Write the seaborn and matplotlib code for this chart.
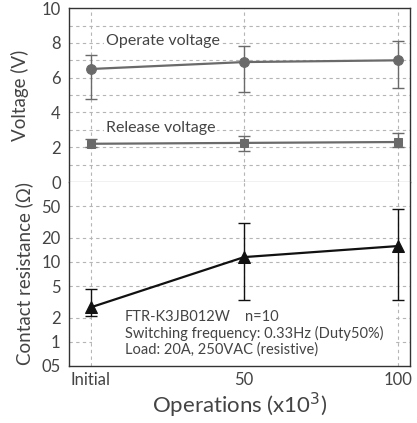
import numpy as np
import matplotlib.pyplot as plt
import seaborn as sns
import pandas as pd
from matplotlib.patches import Rectangle

# --- data ---
stages = ["Initial", "50", "100"]

operate_mean = [6.5, 6.9, 7.0]
operate_min = [4.8, 5.2, 5.4]
operate_max = [7.3, 7.85, 8.1]

release_mean = [2.2, 2.25, 2.3]
release_min = [2.0, 1.8, 2.0]
release_max = [2.5, 2.65, 2.8]

res_mean = [2.7, 11.5, 15.8]
res_min = [2.1, 3.3, 3.3]
res_max = [4.6, 30.8, 46.0]

volt_ticks = [0, 2, 4, 6, 8, 10]
res_ticks = [0.5, 1, 2, 5, 10, 20, 50]
res_ticklabels = ["05", "1", "2", "5", "10", "20", "50"]

sns.set_theme(style="white")
plt.rcParams['font.family'] = ['Lato', 'DejaVu Sans']

x = np.arange(len(stages))
df = pd.DataFrame({"x": x, "operate": operate_mean, "release": release_mean,
                   "res": res_mean})

fig = plt.figure(figsize=(4.17, 4.23), dpi=100)
ax_v = fig.add_axes([0.1655, 0.5697, 0.818, 0.411])
ax_r = fig.add_axes([0.1655, 0.1348, 0.818, 0.435])

grid_kw = dict(color="#b5b5b5", linestyle=(0, (3, 3)), linewidth=0.8)
text_col = "#444444"
vcol = "#6a6a6a"

# --- voltage panel ---
for mean, lo, hi in [(operate_mean, operate_min, operate_max),
                     (release_mean, release_min, release_max)]:
    m = np.array(mean)
    ax_v.errorbar(x, m, yerr=[m - np.array(lo), np.array(hi) - m], fmt="none",
                  ecolor=vcol, elinewidth=1.0, capsize=4, capthick=1.0, zorder=3)
sns.lineplot(data=df, x="x", y="operate", ax=ax_v, color=vcol, marker="o",
             markersize=7, markeredgecolor=vcol, linewidth=1.6, zorder=4)
sns.lineplot(data=df, x="x", y="release", ax=ax_v, color=vcol, marker="s",
             markersize=6, markeredgecolor=vcol, linewidth=1.6, zorder=4)

ax_v.set_ylim(0, 10)
ax_v.set_xlim(-0.14, 2.08)
ax_v.set_yticks(volt_ticks)
ax_v.set_xticks(x)
ax_v.tick_params(axis="x", labelbottom=False, length=0)
ax_v.tick_params(axis="y", length=0, labelsize=12, labelcolor=text_col, pad=6)
for yv in np.arange(1, 10):
    ax_v.axhline(yv, zorder=1, **grid_kw)
for xv in x:
    ax_v.axvline(xv, zorder=1, **grid_kw)
ax_v.set_xlabel("")
ax_v.set_ylabel("Voltage (V)", fontsize=13.5, color=text_col)
ax_v.yaxis.set_label_coords(-0.118, 0.5)
ax_v.text(0.1, 8.1, "Operate voltage", fontsize=11.5, color=text_col,
          va="center", bbox=dict(facecolor="white", edgecolor="none", pad=1), zorder=2)
ax_v.text(0.1, 3.1, "Release voltage", fontsize=11.5, color=text_col,
          va="center", bbox=dict(facecolor="white", edgecolor="none", pad=1), zorder=2)
for s in ["top", "left", "right"]:
    ax_v.spines[s].set_color("#333333")
    ax_v.spines[s].set_linewidth(1.0)
ax_v.spines["bottom"].set_color("#bbbbbb")
ax_v.spines["bottom"].set_linewidth(1.0)

# --- resistance panel ---
m = np.array(res_mean)
ax_r.errorbar(x, m, yerr=[m - np.array(res_min), np.array(res_max) - m], fmt="none",
              ecolor="#111111", elinewidth=1.0, capsize=4, capthick=1.0, zorder=3)
sns.lineplot(data=df, x="x", y="res", ax=ax_r, color="#111111", marker="^",
             markersize=8, markeredgecolor="#111111", linewidth=1.6, zorder=4)
ax_r.set_yscale("log")
ax_r.set_ylim(0.5, 100)
ax_r.set_xlim(-0.14, 2.08)
ax_r.set_yticks(res_ticks)
ax_r.set_yticklabels(res_ticklabels)
ax_r.minorticks_off()
ax_r.set_xticks(x)
ax_r.set_xticklabels(stages)
ax_r.tick_params(axis="both", length=0, labelsize=12, labelcolor=text_col)
ax_r.tick_params(axis="y", pad=6)
ax_r.tick_params(axis="x", pad=4.5)
for yv in res_ticks[1:]:
    ax_r.axhline(yv, zorder=1, **grid_kw)
for xv in x:
    ax_r.axvline(xv, zorder=1, **grid_kw)

# white note box that hides the grid behind the text
ax_r.add_patch(Rectangle((0.067, 0.0), 0.892, 0.345, transform=ax_r.transAxes,
                         facecolor="white", edgecolor="none", zorder=2))
note_kw = dict(transform=ax_r.transAxes, fontsize=10.5, color=text_col, zorder=5, va="center")
ax_r.text(0.164, 0.265, "FTR-K3JB012W", **note_kw)
ax_r.text(0.515, 0.265, "n=10", **note_kw)
ax_r.text(0.164, 0.178, "Switching frequency: 0.33Hz (Duty50%)", **note_kw)
ax_r.text(0.164, 0.091, "Load: 20A, 250VAC (resistive)", **note_kw)

ax_r.set_xlabel("Operations (x10$^3$)", fontsize=16, color=text_col, labelpad=2)
ax_r.set_ylabel("Contact resistance (\u03a9)", fontsize=13.5, color=text_col)
ax_r.yaxis.set_label_coords(-0.106, 0.5)
ax_r.spines["top"].set_visible(False)
for s in ["bottom", "left", "right"]:
    ax_r.spines[s].set_color("#333333")
    ax_r.spines[s].set_linewidth(1.0)

fig.savefig("out.png", dpi=100)
